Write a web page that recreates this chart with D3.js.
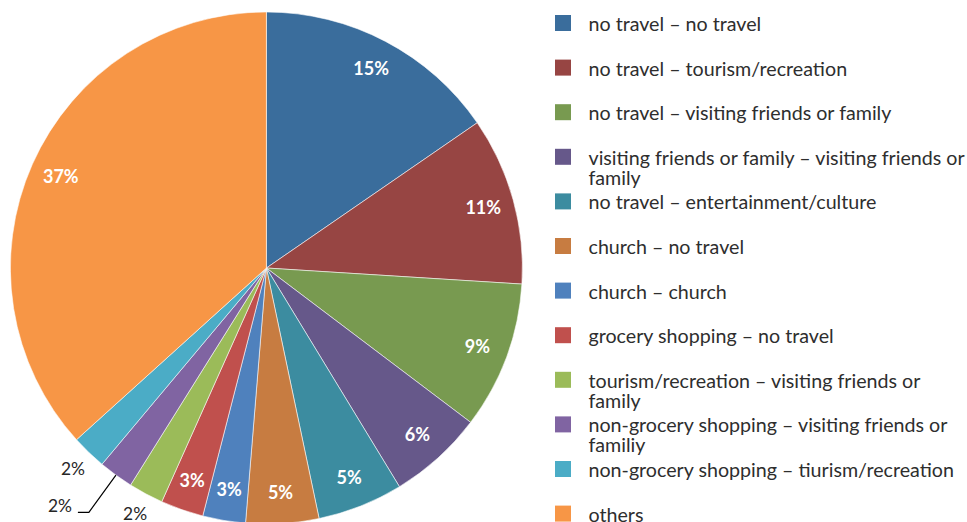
<!DOCTYPE html>
<html>
<head>
<meta charset="utf-8">
<script src="https://cdn.jsdelivr.net/npm/d3@7"></script>
<style>
  html, body { margin: 0; padding: 0; background: #fff; }
  svg { display: block; }
</style>
</head>
<body>
<svg id="chart" width="967" height="522"></svg>
<script>
// Trip-purpose combinations (share of respondents, %)
const categories = [
  "no travel – no travel",
  "no travel – tourism/recreation",
  "no travel – visiting friends or family",
  "visiting friends or family – visiting friends or family",
  "no travel – entertainment/culture",
  "church – no travel",
  "church – church",
  "grocery shopping – no travel",
  "tourism/recreation – visiting friends or family",
  "non-grocery shopping – visiting friends or familiy",
  "non-grocery shopping – tiurism/recreation",
  "others"
];
const values = [15.4, 10.6, 9.3, 6.0, 5.4, 4.6, 2.7, 2.7, 2.2, 2.2, 2.2, 36.7];
// Legend entries broken into lines as laid out in the legend box
const legendLines = [
  ["no travel – no travel"],
  ["no travel – tourism/recreation"],
  ["no travel – visiting friends or family"],
  ["visiting friends or family – visiting friends or", "family"],
  ["no travel – entertainment/culture"],
  ["church – no travel"],
  ["church – church"],
  ["grocery shopping – no travel"],
  ["tourism/recreation – visiting friends or", "family"],
  ["non-grocery shopping – visiting friends or", "familiy"],
  ["non-grocery shopping – tiurism/recreation"],
  ["others"]
];
const colors = [
  "#3a6d9c", "#974543", "#789a50", "#66588a", "#3c8ca0", "#c77c41",
  "#4f81bd", "#c0504d", "#9bbb59", "#8064a2", "#4bacc6", "#f79646"
];
// How each slice's label is placed: inside, outside, or outside with a leader line
const labelModes = ["in","in","in","in","in","in","in","in","out","leader","out","in"];

const svg = d3.select("#chart");
const FONT = "Lato, 'Open Sans', sans-serif";

// Size fonts so their widths track the original Calibri-like metrics
function fitSize(text, weight, targetWidth) {
  const t = svg.append("text").attr("font-family", FONT).attr("font-weight", weight)
    .attr("font-size", 20).text(text);
  const w = t.node().getComputedTextLength();
  t.remove();
  return 20 * targetWidth / w;
}
const legendSize = fitSize("no travel – visiting friends or family", 400, 303);
const labelSize = fitSize("15%", 700, 35.7);
const outSize = fitSize("2%", 400, 24);

const cx = 266.4, cy = 268, R = 256;
const g = svg.append("g").attr("transform", `translate(${cx},${cy})`);

const pie = d3.pie().sort(null).value(d => d)(values);
const arc = d3.arc().innerRadius(0).outerRadius(R);
const labelArc = d3.arc().innerRadius(225).outerRadius(225);
const outArc = d3.arc().innerRadius(279).outerRadius(279);
const edgeArc = d3.arc().innerRadius(R).outerRadius(R);
const elbowArc = d3.arc().innerRadius(302).outerRadius(302);

g.selectAll("path.slice").data(pie).join("path")
  .attr("class", "slice")
  .attr("d", arc)
  .attr("fill", (d, i) => colors[i])
  .attr("stroke", "#ffffff")
  .attr("stroke-opacity", 0.7)
  .attr("stroke-width", 0.8);

const pct = v => Math.round(v) + "%";

// Labels inside the slices
g.selectAll("text.in").data(pie.filter((d, i) => labelModes[i] === "in")).join("text")
  .attr("class", "in")
  .attr("transform", d => `translate(${labelArc.centroid(d)})`)
  .attr("text-anchor", "middle")
  .attr("dy", "0.36em")
  .attr("font-family", FONT)
  .attr("font-weight", 700)
  .attr("font-size", labelSize)
  .attr("fill", "#ffffff")
  .text(d => pct(d.data));

// Labels just outside the small slices
g.selectAll("text.out").data(pie.filter((d, i) => labelModes[i] === "out")).join("text")
  .attr("class", "out")
  .attr("transform", d => `translate(${outArc.centroid(d)})`)
  .attr("text-anchor", "middle")
  .attr("dy", "0.36em")
  .attr("font-family", FONT)
  .attr("font-size", outSize)
  .attr("fill", "#262626")
  .text(d => pct(d.data));

// Label with leader line
pie.filter((d, i) => labelModes[i] === "leader").forEach(d => {
  const p0 = edgeArc.centroid(d);
  const p1 = elbowArc.centroid(d);
  const p2 = [p1[0] - 11, p1[1]];
  g.append("polyline")
    .attr("points", [p0, p1, p2].map(p => p.join(",")).join(" "))
    .attr("fill", "none")
    .attr("stroke", "#000")
    .attr("stroke-width", 1.2);
  g.append("text")
    .attr("x", p2[0] - 6)
    .attr("y", p2[1] - 7)
    .attr("text-anchor", "end")
    .attr("dy", "0.36em")
    .attr("font-family", FONT)
    .attr("font-size", outSize)
    .attr("fill", "#262626")
    .text(pct(d.data));
});

// Legend
const legendX = 555, legendTop = 15, legendStep = 44.6, sw = 16;
const items = svg.append("g").selectAll("g").data(categories).join("g")
  .attr("transform", (d, i) => `translate(${legendX},${legendTop + i * legendStep})`);
items.append("rect")
  .attr("width", sw).attr("height", sw)
  .attr("fill", (d, i) => colors[i]);
items.append("text")
  .attr("x", 33.5)
  .attr("y", 16)
  .attr("font-family", FONT)
  .attr("font-size", legendSize)
  .attr("fill", "#2e2e2e")
  .selectAll("tspan").data((d, i) => legendLines[i]).join("tspan")
  .attr("x", 33.5)
  .attr("dy", (d, j) => j === 0 ? 0 : 20)
  .text(d => d);
</script>
</body>
</html>
